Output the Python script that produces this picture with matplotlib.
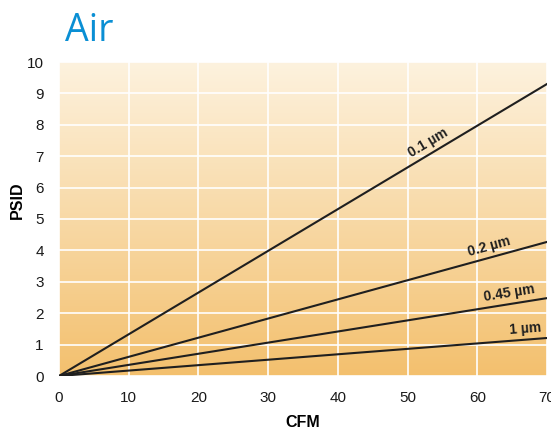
import numpy as np
import matplotlib
matplotlib.use("Agg")
import matplotlib.pyplot as plt
from matplotlib.colors import LinearSegmentedColormap

plt.rcParams['font.family'] = ['Liberation Sans', 'DejaVu Sans']

labels = ["0.1 µm", "0.2 µm", "0.45 µm", "1 µm"]
end_x = [70, 70, 70, 70]
end_y = [9.3, 4.27, 2.48, 1.21]
label_x = [53.5, 62.0, 64.8, 67.0]
xticks = [0, 10, 20, 30, 40, 50, 60, 70]
yticks = [0, 1, 2, 3, 4, 5, 6, 7, 8, 9, 10]

fig = plt.figure(figsize=(5.51, 4.32), dpi=100)
ax = fig.add_axes([59/551, 1 - 376/432, 488/551, 314/432])
ax.set_xlim(0, 70)
ax.set_ylim(0, 10)

cmap = LinearSegmentedColormap.from_list("g", ["#F3C06E", "#FDF2DE"])
grad = np.linspace(0, 1, 256).reshape(-1, 1)
ax.imshow(grad, extent=[0, 70, 0, 10], origin="lower", aspect="auto", cmap=cmap, zorder=0)

ax.set_xticks(xticks)
ax.set_yticks(yticks)
ax.grid(True, color="white", linewidth=1.2, zorder=1)
ax.set_axisbelow(False)
for s in ax.spines.values():
    s.set_visible(False)
ax.tick_params(length=0, labelsize=11, colors="#1a1a1a")
ax.tick_params(axis="x", pad=11)
ax.tick_params(axis="y", pad=11)

for lab, ex, ey, lx in zip(labels, end_x, end_y, label_x):
    ax.plot([0, ex], [0, ey], color="#1f1f1f", linewidth=1.5, zorder=3)
    slope = ey / ex
    ang = np.degrees(np.arctan(slope))
    ax.text(lx, slope * lx + 0.12, lab, rotation=ang, transform_rotates_text=True,
            rotation_mode="anchor", ha="center", va="bottom", fontsize=10,
            fontweight="bold", color="#1f1f1f", zorder=4)

ax.set_xlabel("CFM", fontsize=11.5, fontweight="bold")
ax.set_ylabel("PSID", fontsize=11.5, fontweight="bold")
ax.xaxis.set_label_coords(0.5, -0.125)
ax.yaxis.set_label_coords(-0.07, 0.56)
fig.text(65/551, 1 - 41/432, "Air", fontsize=27, color="#0A8FD4",
         family=["Open Sans", "DejaVu Sans"])

fig.savefig("out.png", dpi=100)
